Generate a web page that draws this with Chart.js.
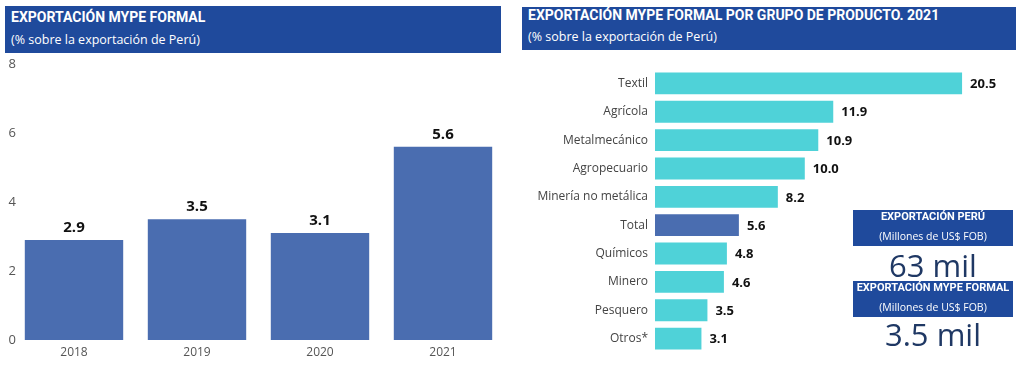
<!DOCTYPE html>
<html><head><meta charset="utf-8">
<script src="https://cdn.jsdelivr.net/npm/chart.js@4.4.0/dist/chart.umd.min.js"></script>
<style>
html,body{margin:0;padding:0;background:#fff;width:1024px;height:367px;overflow:hidden;font-family:"Open Sans",sans-serif}
.tbox{position:absolute;background:#1f4a9c;color:#fff;font-family:Roboto,sans-serif;box-sizing:border-box;padding-left:6px}
.tbox .t{font-weight:bold;font-size:14px;position:absolute;left:6px;white-space:nowrap}
.tbox .s{font-size:12.5px;position:absolute;left:6px;font-family:"Open Sans",sans-serif}
.cv{position:absolute}
.ibox{position:absolute;left:853px;width:160px;height:36px;background:#1f4a9c;color:#fff;text-align:center;font-family:Roboto,sans-serif}
.ibox .a{font-weight:bold;font-size:11px;position:absolute;top:0px;left:0;right:0;white-space:nowrap}
.ibox .b{font-size:10.5px;position:absolute;top:19px;left:0;right:0;font-family:"Open Sans",sans-serif;white-space:nowrap}
.big{position:absolute;left:853px;width:160px;text-align:center;color:#1f3864;font-size:31px;font-family:"Open Sans",sans-serif;line-height:30px}
</style></head><body>
<div class="tbox" style="left:5px;top:6px;width:496px;height:47px"><div class="t" style="top:3px">EXPORTACIÓN MYPE FORMAL</div><div class="s" style="top:25px">(% sobre la exportación de Perú)</div></div>
<div class="tbox" style="left:522px;top:7px;width:494px;height:43px"><div class="t" style="top:0px">EXPORTACIÓN MYPE FORMAL POR GRUPO DE PRODUCTO. 2021</div><div class="s" style="top:21px">(% sobre la exportación de Perú)</div></div>
<div class="cv" style="left:0;top:55px;width:512px;height:312px"><canvas id="c1"></canvas></div>
<div class="cv" style="left:520px;top:55px;width:504px;height:312px"><canvas id="c2"></canvas></div>
<div class="ibox" style="top:210px"><div class="a">EXPORTACIÓN PERÚ</div><div class="b">(Millones de US$ FOB)</div></div>
<div class="big" style="top:250px">63 mil</div>
<div class="ibox" style="top:281px"><div class="a">EXPORTACIÓN MYPE FORMAL</div><div class="b">(Millones de US$ FOB)</div></div>
<div class="big" style="top:319px">3.5 mil</div>
<script>
const years = ["2018","2019","2020","2021"];
const yearValues = [2.9,3.5,3.1,5.6];
const yTicks = [0,2,4,6,8];
const products = ["Textil","Agrícola","Metalmecánico","Agropecuario","Minería no metálica","Total","Químicos","Minero","Pesquero","Otros*"];
const productValues = [20.5,11.9,10.9,10.0,8.2,5.6,4.8,4.6,3.5,3.1];

const BLUE="#4a6db0", CYAN="#4fd2d8";

const valueLabels = {
  id:'valueLabels',
  afterDatasetsDraw(chart, args, opts){
    const ctx=chart.ctx;
    const meta=chart.getDatasetMeta(0);
    const data=chart.data.datasets[0].data;
    ctx.save();
    ctx.fillStyle="#111";
    ctx.font=opts.font;
    meta.data.forEach((el,i)=>{
      const txt=data[i].toFixed(1);
      if(opts.horizontal){
        ctx.textAlign='left';ctx.textBaseline='middle';
        ctx.fillText(txt, el.x+8, el.y+1);
      } else {
        ctx.textAlign='center';ctx.textBaseline='bottom';
        ctx.fillText(txt, el.x, el.y-5);
      }
    });
    ctx.restore();
  }
};

new Chart(document.getElementById('c1'),{
  type:'bar',
  data:{labels:years,datasets:[{data:yearValues,backgroundColor:BLUE,barPercentage:0.8,categoryPercentage:1}]},
  options:{
    responsive:true,maintainAspectRatio:false,animation:false,
    layout:{padding:{left:12.5,right:7.5,top:9,bottom:7}},
    plugins:{legend:{display:false},tooltip:{enabled:false},
      valueLabels:{font:'bold 15px "Open Sans", sans-serif',horizontal:false}},
    scales:{
      x:{grid:{display:false,drawTicks:false},border:{display:false},
         ticks:{color:"#555",font:{size:12,family:'"Open Sans", sans-serif'},padding:5},
         afterFit(s){s.height=20;}},
      y:{min:0,max:8,grid:{display:false,drawTicks:false},border:{display:false},
         afterBuildTicks(s){s.ticks=yTicks.map(v=>({value:v}));},
         ticks:{mirror:true,padding:-4,color:"#555",font:{size:13,family:'"Open Sans", sans-serif'}},
         afterFit(s){s.width=0;}}
    }
  },
  plugins:[valueLabels]
});

new Chart(document.getElementById('c2'),{
  type:'bar',
  data:{labels:products,datasets:[{data:productValues,
    backgroundColor:products.map(p=>p==="Total"?BLUE:CYAN),barPercentage:0.77,categoryPercentage:1}]},
  options:{
    indexAxis:'y',responsive:true,maintainAspectRatio:false,animation:false,
    layout:{padding:{left:0,right:9.5,top:10,bottom:11.5}},
    plugins:{legend:{display:false},tooltip:{enabled:false},
      valueLabels:{font:'bold 13px "Open Sans", sans-serif',horizontal:true}},
    scales:{
      x:{display:false,min:0,max:24},
      y:{grid:{display:false,drawTicks:false},border:{display:false},
         ticks:{color:"#444",font:{size:12,family:'"Open Sans", sans-serif'},padding:7},
         afterFit(s){s.width=135;}}
    }
  },
  plugins:[valueLabels]
});
</script>
</body></html>
